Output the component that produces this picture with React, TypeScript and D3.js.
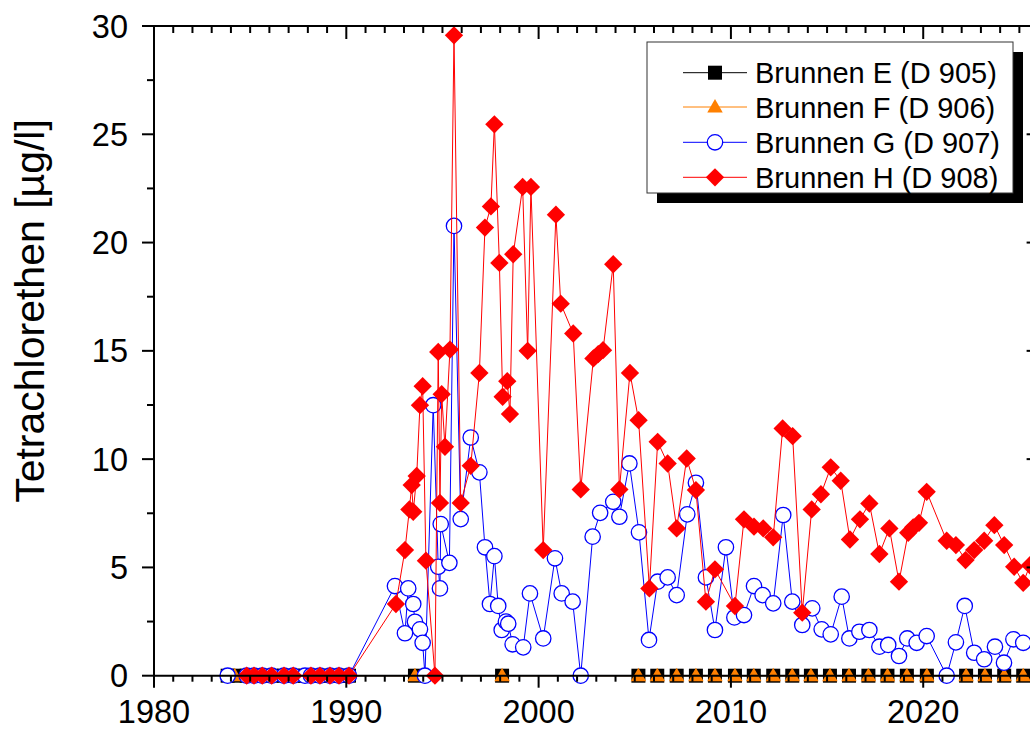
import React from 'react';
import * as d3 from 'd3';

// ---------- data ----------
const yearsE = [1983.83, 1984.2, 1984.82, 1985.2, 1985.63, 1986.12, 1986.76, 1987.24, 1987.85, 1988.16, 1988.63, 1989.15, 1989.62, 1990.14,
  1993.57, 1998.1,
  2005.19, 2006.17, 2007.18, 2008.18, 2009.17, 2010.21, 2011.19, 2012.2, 2013.19, 2014.16, 2015.15, 2016.14, 2017.15, 2018.14, 2019.15, 2020.19,
  2022.23, 2023.21, 2024.21, 2025.2];
const valuesE = [0, 0, 0, 0, 0, 0, 0, 0, 0, 0, 0, 0, 0, 0,
  0, 0,
  0, 0, 0, 0, 0, 0, 0, 0, 0, 0, 0, 0, 0, 0, 0, 0,
  0, 0, 0, 0];

const yearsF = [1984.2, 1993.57, 1998.1,
  2005.19, 2006.17, 2007.18, 2008.18, 2009.17, 2010.21, 2011.19, 2012.2, 2013.19, 2014.16, 2015.15, 2016.14, 2017.15, 2018.14, 2019.15, 2020.19,
  2022.23, 2023.21, 2024.21, 2025.2];
const valuesF = [0, 0, 0,
  0, 0, 0, 0, 0, 0, 0, 0, 0, 0, 0, 0, 0, 0, 0, 0,
  0, 0, 0, 0];

const yearsG = [1983.83, 1984.82, 1985.2, 1985.63, 1986.12, 1986.76, 1987.24, 1987.85, 1988.16, 1988.63, 1989.15, 1989.62, 1990.14,
  1992.53, 1993.05, 1993.22, 1993.48, 1993.57, 1993.83, 1993.97, 1994.09, 1994.52, 1994.78, 1994.87, 1994.91,
  1995.36, 1995.6, 1995.95, 1996.47, 1996.92, 1997.21, 1997.47, 1997.7, 1997.9, 1998.08, 1998.3, 1998.42, 1998.65,
  1999.2, 1999.55, 2000.24, 2000.85, 2001.2, 2001.77, 2002.19, 2002.81, 2003.2, 2003.88, 2004.2, 2004.72,
  2005.22, 2005.74, 2006.19, 2006.71, 2007.18, 2007.73, 2008.18, 2008.7, 2009.17, 2009.74,
  2010.18, 2010.68, 2011.2, 2011.65, 2012.2, 2012.72, 2013.19, 2013.71, 2014.23, 2014.72,
  2015.19, 2015.76, 2016.16, 2016.68, 2017.2, 2017.72, 2018.18, 2018.74, 2019.17, 2019.66, 2020.18,
  2021.22, 2021.7, 2022.16, 2022.65, 2023.17, 2023.73, 2024.2, 2024.69, 2025.2];
const valuesG = [0, 0, 0, 0, 0, 0, 0, 0, 0, 0, 0, 0, 0,
  4.14, 1.96, 4.03, 3.31, 2.49, 2.14, 1.52, 0, 12.49, 5.03, 4.03, 7.0,
  5.21, 20.77, 7.23, 11.0, 9.39, 5.93, 3.31, 5.52, 3.22, 2.11, 2.5, 2.4, 1.45,
  1.31, 3.8, 1.72, 5.42, 3.8, 3.42, 0, 6.42, 7.52, 8.03, 7.34, 9.8,
  6.62, 1.65, 4.34, 4.54, 3.72, 7.45, 8.91, 4.54, 2.11, 5.93,
  2.69, 2.8, 4.14, 3.72, 3.34, 7.42, 3.42, 2.34, 3.11, 2.14,
  1.91, 3.65, 1.72, 2.03, 2.11, 1.34, 1.42, 0.91, 1.72, 1.52, 1.83,
  0, 1.54, 3.22, 1.06, 0.76, 1.34, 0.6, 1.68, 1.52];

const yearsH = [1984.82, 1985.2, 1985.63, 1986.12, 1986.76, 1987.24, 1988.16, 1988.63, 1989.15, 1989.62, 1990.14,
  1992.58, 1993.05, 1993.28, 1993.4, 1993.48, 1993.66, 1993.83, 1993.97, 1994.14, 1994.61, 1994.78, 1994.87, 1994.96,
  1995.13, 1995.39, 1995.6, 1995.95, 1996.47, 1996.92, 1997.21, 1997.52, 1997.7, 1997.96, 1998.13, 1998.37, 1998.51, 1998.68,
  1999.17, 1999.43, 1999.6, 2000.24, 2000.9, 2001.15, 2001.8, 2002.19, 2002.85, 2003.1, 2003.35, 2003.88, 2004.2, 2004.75,
  2005.2, 2005.76, 2006.19, 2006.71, 2007.18, 2007.7, 2008.18, 2008.7, 2009.17,
  2010.21, 2010.68, 2011.2, 2011.68, 2012.2, 2012.69, 2013.21, 2013.71, 2014.2, 2014.68,
  2015.19, 2015.71, 2016.19, 2016.71, 2017.2, 2017.72, 2018.24, 2018.74, 2019.22, 2019.48, 2019.78, 2020.18,
  2021.22, 2021.7, 2022.2, 2022.65, 2023.17, 2023.7, 2024.21, 2024.73, 2025.2, 2025.55];
const valuesH = [0, 0, 0, 0, 0, 0, 0, 0, 0, 0, 0,
  3.31, 5.8, 7.68, 8.8, 7.57, 9.22, 12.49, 13.37, 5.31, 0, 14.95, 7.98, 13.0,
  10.57, 15.06, 29.57, 7.98, 9.69, 13.98, 20.69, 21.67, 25.46, 19.06, 12.88, 13.6, 12.08, 19.46,
  22.57, 15.0, 22.57, 5.8, 21.29, 17.18, 15.8, 8.6, 14.65, 14.85, 15.03, 19.0, 8.6, 13.98,
  11.8, 4.03, 10.8, 9.8, 6.8, 10.03, 8.57, 3.42, 4.91,
  3.22, 7.22, 6.88, 6.8, 6.39, 11.42, 11.06, 2.91, 7.68, 8.38,
  9.62, 9.0, 6.29, 7.22, 7.95, 5.62, 6.8, 4.34, 6.6, 6.85, 7.06, 8.49,
  6.23, 6.03, 5.34, 5.8, 6.23, 6.95, 6.03, 5.03, 4.29, 5.1];

const seriesNames = ['Brunnen E (D 905)', 'Brunnen F (D 906)', 'Brunnen G (D 907)', 'Brunnen H (D 908)'];
const xMajorTicks = [1980, 1990, 2000, 2010, 2020];
const yMajorTicks = [0, 5, 10, 15, 20, 25, 30];
const yAxisTitle = 'Tetrachlorethen [µg/l]';

// ---------- layout ----------
const W = 1030;
const H = 729;
const FONT = '"Liberation Sans", Arial, Helvetica, sans-serif';

type Kind = 'square' | 'triangle' | 'circle' | 'diamond';
const series: { name: string; xs: number[]; ys: number[]; color: string; kind: Kind }[] = [
  { name: seriesNames[0], xs: yearsE, ys: valuesE, color: '#000000', kind: 'square' },
  { name: seriesNames[1], xs: yearsF, ys: valuesF, color: '#FF8000', kind: 'triangle' },
  { name: seriesNames[2], xs: yearsG, ys: valuesG, color: '#0000FF', kind: 'circle' },
  { name: seriesNames[3], xs: yearsH, ys: valuesH, color: '#FF0000', kind: 'diamond' },
];

const squarePath = d3.symbol().type(d3.symbolSquare).size(196)()!;
const diamondPath = d3.symbol().type(d3.symbolSquare).size(168)()!;
const trianglePath = d3.symbol().type(d3.symbolTriangle).size(104)()!;

function Marker({ kind, color, cx, cy }: { kind: Kind; color: string; cx: number; cy: number }) {
  if (kind === 'circle') {
    return <circle cx={cx} cy={cy} r={7.7} fill="#fff" stroke={color} strokeWidth={1.3} />;
  }
  if (kind === 'square') {
    return <path d={squarePath} transform={`translate(${cx},${cy})`} fill={color} />;
  }
  if (kind === 'triangle') {
    return <path d={trianglePath} transform={`translate(${cx},${cy + 1})`} fill={color} />;
  }
  return <path d={diamondPath} transform={`translate(${cx},${cy}) rotate(45)`} fill={color} />;
}

export default function App() {
  const x = d3.scaleLinear().domain([1980, 2026]).range([154, 1038.6]);
  const y = d3.scaleLinear().domain([0, 30]).range([675.7, 26]);
  const x0 = x.range()[0];
  const x1 = x.range()[1];
  const y0 = y.range()[0];
  const y1 = y.range()[1];

  const xMinor = d3.range(1980, 2027, 1);
  const yMinor = d3.range(0, 30.01, 2.5);

  const line = d3
    .line<[number, number]>()
    .x((d) => x(d[0]))
    .y((d) => y(d[1]));

  const legendRows = [72.7, 107, 142.3, 177.3];

  return (
    <svg
      width={W}
      height={H}
      style={{ position: 'absolute', left: 0, top: 0, background: '#fff' }}
      fontFamily={FONT}
    >
      <rect x={0} y={0} width={W} height={H} fill="#fff" />

      {/* series */}
      {series.map((s) => {
        const pts = s.xs.map((v, i) => [v, s.ys[i]] as [number, number]);
        return (
          <g key={s.name}>
            <path d={line(pts) || ''} fill="none" stroke={s.color} strokeWidth={1} />
            {pts.map((p, i) => (
              <Marker key={i} kind={s.kind} color={s.color} cx={x(p[0])} cy={y(p[1])} />
            ))}
          </g>
        );
      })}

      {/* axes frame */}
      <g stroke="#000" strokeWidth={2} fill="none">
        <line x1={x0} y1={y0} x2={x1} y2={y0} />
        <line x1={x0} y1={y1} x2={x1} y2={y1} />
        <line x1={x0} y1={y0 + 1} x2={x0} y2={y1 - 1} />
        <line x1={x1} y1={y0 + 1} x2={x1} y2={y1 - 1} />
      </g>

      {/* ticks */}
      <g stroke="#000" strokeWidth={2}>
        {xMinor.map((t) => {
          const major = t % 10 === 0;
          const px = x(t);
          return (
            <g key={t}>
              <line x1={px} y1={y0} x2={px} y2={y0 + (major ? 12 : 6)} />
              <line x1={px} y1={y1} x2={px} y2={y1 + (major ? 13 : 7)} />
            </g>
          );
        })}
        {yMinor.map((t) => {
          const major = t % 5 === 0;
          const py = y(t);
          return (
            <g key={t}>
              <line x1={x0} y1={py} x2={x0 - (major ? 12 : 7)} y2={py} />
              <line x1={x1} y1={py} x2={x1 - (major ? 12 : 7)} y2={py} />
            </g>
          );
        })}
      </g>

      {/* tick labels */}
      <g fontSize={32.5} fill="#000">
        {xMajorTicks.map((t) => (
          <text key={t} x={x(t)} y={723} textAnchor="middle">
            {t}
          </text>
        ))}
        {yMajorTicks.map((t) => (
          <text key={t} x={128} y={y(t) + 11.5} textAnchor="end">
            {t}
          </text>
        ))}
      </g>

      {/* y title */}
      <text
        transform="translate(44,311) rotate(-90)"
        textAnchor="middle"
        fontSize={41}
        fill="#000"
      >
        {yAxisTitle}
      </text>

      {/* legend */}
      <rect x={657} y={52} width={366} height={151} fill="#000" />
      <rect x={647} y={42} width={366} height={151} fill="#fff" stroke="#333" strokeWidth={1} />
      {series.map((s, i) => {
        const cy = legendRows[i];
        return (
          <g key={s.name}>
            <line x1={683} y1={cy} x2={747} y2={cy} stroke={s.color} strokeWidth={1} />
            <Marker kind={s.kind} color={s.color} cx={715} cy={cy} />
            <text x={755} y={cy + 10.5} fontSize={29} fill="#000">
              {s.name}
            </text>
          </g>
        );
      })}
    </svg>
  );
}
